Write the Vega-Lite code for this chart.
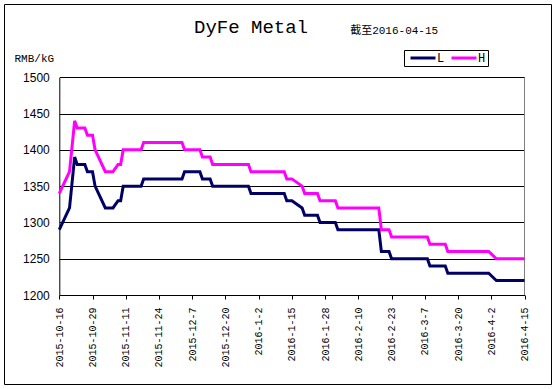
{
  "$schema": "https://vega.github.io/schema/vega-lite/v6.json",
  "autosize": "none",
  "width": 547,
  "height": 380,
  "padding": {"left": 4, "top": 4, "right": 4, "bottom": 5},
  "background": "white",
  "title": {"text": "DyFe Metal", "anchor": "start", "frame": "group", "dx": 190, "offset": -48, "baseline": "alphabetic", "font": "Liberation Mono", "fontSize": 19, "fontWeight": "normal", "color": "black"},
  "config": {
    "view": {"stroke": "black", "strokeWidth": 1, "fill": "white"},
    "axis": {"domainColor": "black", "tickColor": "black", "labelColor": "black", "titleColor": "black", "gridColor": "black", "gridOpacity": 1}
  },
  "datasets": {
    "prices": [
      {"date": "2015-10-16", "L": 1290, "H": 1340},
      {"date": "2015-10-20", "L": 1320, "H": 1370},
      {"date": "2015-10-22", "L": 1390, "H": 1440},
      {"date": "2015-10-23", "L": 1380, "H": 1430},
      {"date": "2015-10-26", "L": 1380, "H": 1430},
      {"date": "2015-10-27", "L": 1370, "H": 1420},
      {"date": "2015-10-29", "L": 1370, "H": 1420},
      {"date": "2015-10-30", "L": 1350, "H": 1400},
      {"date": "2015-11-03", "L": 1320, "H": 1370},
      {"date": "2015-11-06", "L": 1320, "H": 1370},
      {"date": "2015-11-08", "L": 1330, "H": 1380},
      {"date": "2015-11-09", "L": 1330, "H": 1380},
      {"date": "2015-11-10", "L": 1350, "H": 1400},
      {"date": "2015-11-17", "L": 1350, "H": 1400},
      {"date": "2015-11-18", "L": 1360, "H": 1410},
      {"date": "2015-12-03", "L": 1360, "H": 1410},
      {"date": "2015-12-04", "L": 1370, "H": 1400},
      {"date": "2015-12-10", "L": 1370, "H": 1400},
      {"date": "2015-12-11", "L": 1360, "H": 1390},
      {"date": "2015-12-14", "L": 1360, "H": 1390},
      {"date": "2015-12-15", "L": 1350, "H": 1380},
      {"date": "2015-12-29", "L": 1350, "H": 1380},
      {"date": "2015-12-30", "L": 1340, "H": 1370},
      {"date": "2016-01-12", "L": 1340, "H": 1370},
      {"date": "2016-01-13", "L": 1330, "H": 1360},
      {"date": "2016-01-15", "L": 1330, "H": 1360},
      {"date": "2016-01-19", "L": 1320, "H": 1350},
      {"date": "2016-01-20", "L": 1310, "H": 1340},
      {"date": "2016-01-25", "L": 1310, "H": 1340},
      {"date": "2016-01-26", "L": 1300, "H": 1330},
      {"date": "2016-02-01", "L": 1300, "H": 1330},
      {"date": "2016-02-02", "L": 1290, "H": 1320},
      {"date": "2016-02-18", "L": 1290, "H": 1320},
      {"date": "2016-02-19", "L": 1260, "H": 1290},
      {"date": "2016-02-22", "L": 1260, "H": 1290},
      {"date": "2016-02-23", "L": 1250, "H": 1280},
      {"date": "2016-03-08", "L": 1250, "H": 1280},
      {"date": "2016-03-09", "L": 1240, "H": 1270},
      {"date": "2016-03-15", "L": 1240, "H": 1270},
      {"date": "2016-03-16", "L": 1230, "H": 1260},
      {"date": "2016-04-01", "L": 1230, "H": 1260},
      {"date": "2016-04-04", "L": 1220, "H": 1250},
      {"date": "2016-04-15", "L": 1220, "H": 1250}
    ]
  },
  "layer": [
    {
      "data": {"values": [{}]},
      "mark": {"type": "rule", "color": "#808080", "strokeWidth": 1},
      "encoding": {
        "x": {"datum": {"year": 2016, "month": 4, "date": 15, "utc": true}, "type": "temporal"},
        "y": {"datum": 1200, "type": "quantitative"},
        "y2": {"datum": 1500}
      }
    },
    {
      "data": {"name": "prices"},
      "transform": [{"fold": ["L", "H"], "as": ["series", "price"]}],
      "mark": {"type": "line", "strokeWidth": 3},
      "encoding": {
        "x": {
          "field": "date", "type": "temporal",
          "scale": {"type": "utc", "domain": [{"year": 2015, "month": 10, "date": 16, "utc": true}, {"year": 2016, "month": 4, "date": 15, "utc": true}], "range": [55.3, 520.5]},
          "axis": {
            "values": [
              {"year": 2015, "month": 10, "date": 16, "utc": true},
              {"year": 2015, "month": 10, "date": 29, "utc": true},
              {"year": 2015, "month": 11, "date": 11, "utc": true},
              {"year": 2015, "month": 11, "date": 24, "utc": true},
              {"year": 2015, "month": 12, "date": 7, "utc": true},
              {"year": 2015, "month": 12, "date": 20, "utc": true},
              {"year": 2016, "month": 1, "date": 2, "utc": true},
              {"year": 2016, "month": 1, "date": 15, "utc": true},
              {"year": 2016, "month": 1, "date": 28, "utc": true},
              {"year": 2016, "month": 2, "date": 10, "utc": true},
              {"year": 2016, "month": 2, "date": 23, "utc": true},
              {"year": 2016, "month": 3, "date": 7, "utc": true},
              {"year": 2016, "month": 3, "date": 20, "utc": true},
              {"year": 2016, "month": 4, "date": 2, "utc": true},
              {"year": 2016, "month": 4, "date": 15, "utc": true}
            ],
            "tickCount": 30,
            "format": "%Y-%-m-%-d",
            "grid": false, "ticks": true, "tickSize": 4,
            "labelAngle": -90, "labelAlign": "right", "labelBaseline": "middle",
            "labelPadding": 8, "labelFont": "Liberation Mono", "labelFontSize": 10,
            "labelOverlap": false, "labelFlush": false,
            "offset": -89, "title": null
          }
        },
        "y": {
          "field": "price", "type": "quantitative",
          "scale": {"domain": [1200, 1500], "range": [291, 73.3], "nice": false, "zero": false},
          "axis": {
            "values": [1200, 1250, 1300, 1350, 1400, 1450, 1500],
            "format": "d",
            "grid": true, "gridColor": "black", "gridWidth": 1,
            "ticks": false, "labelPadding": 10,
            "labelFont": "Liberation Sans", "labelFontSize": 12,
            "offset": -55.3,
            "title": "RMB/kG", "titleAngle": 0, "titleAlign": "left", "titleBaseline": "middle",
            "titleX": -45.3, "titleY": 54,
            "titleFont": "Liberation Mono", "titleFontSize": 11, "titleFontWeight": "normal"
          }
        },
        "color": {
          "field": "series", "type": "nominal",
          "scale": {"domain": ["L", "H"], "range": ["#000066", "#ff00ff"]},
          "legend": {
            "title": null, "orient": "none", "legendX": 400, "legendY": 46,
            "direction": "horizontal", "strokeColor": "black", "fillColor": "white",
            "padding": 2, "symbolType": "stroke", "symbolSize": 625, "symbolStrokeWidth": 3,
            "symbolOffset": 3, "clipHeight": 12,
            "labelFont": "Liberation Mono", "labelFontSize": 12, "labelOffset": 0, "columnPadding": 2
          }
        }
      }
    },
    {
      "data": {"values": [{"note": "截至2016-04-15"}]},
      "mark": {"type": "text", "font": "Liberation Mono, Noto Sans CJK SC", "fontSize": 11, "align": "center", "baseline": "middle", "color": "black"},
      "encoding": {
        "x": {"datum": {"year": 2016, "month": 2, "date": 24, "utc": true}, "type": "temporal"},
        "y": {"datum": 1564, "type": "quantitative"},
        "text": {"field": "note", "type": "nominal"}
      }
    }
  ]
}
